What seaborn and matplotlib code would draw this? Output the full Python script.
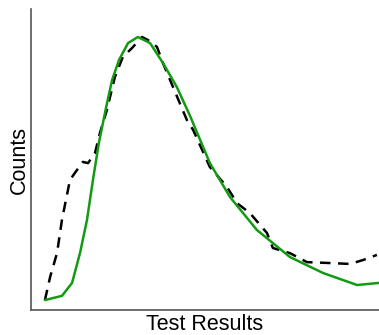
import matplotlib.pyplot as plt
import seaborn as sns
import pandas as pd

# fitted (green) curve
fit_x = [4.0, 8.9, 11.8, 14.1, 16.1, 17.8, 19.5, 21.6, 23.3, 25.3, 27.9, 30.7, 34.2, 37.9, 41.9, 45.7,
         51.4, 57.2, 64.9, 74.4, 83.9, 93.7, 100.0]
fit_y = [3.3, 4.7, 9.0, 19.0, 30.0, 43.2, 55.5, 67.4, 76.4, 83.1, 88.7, 90.7, 88.7, 82.1, 74.1, 64.5,
         48.8, 37.5, 26.6, 17.6, 12.3, 8.3, 9.0]

# measured (dashed) curve
obs_x = [4.0, 5.5, 7.5, 8.9, 11.2, 13.2, 14.9, 16.4, 18.4, 19.8, 21.8, 24.1, 26.4, 29.0, 31.9, 33.6,
         36.2, 37.9, 40.8, 44.8, 46.6, 51.4, 56.3, 59.2, 62.9, 67.8, 69.5, 74.4, 79.3, 85.9, 91.7, 95.4,
         99.4]
obs_y = [3.3, 11.0, 19.0, 30.0, 43.2, 46.5, 49.2, 48.8, 52.2, 58.8, 66.4, 77.4, 84.1, 87.0, 90.7, 89.7,
         87.4, 82.1, 74.1, 63.1, 59.8, 47.5, 40.9, 35.5, 32.2, 25.6, 20.6, 18.9, 15.9, 15.6, 15.3, 16.6,
         18.3]

fit = pd.DataFrame({"x": fit_x, "y": fit_y})
obs = pd.DataFrame({"x": obs_x, "y": obs_y})

sns.set_style("white")
plt.rcParams['font.family'] = ['Liberation Sans', 'DejaVu Sans']

fig = plt.figure(figsize=(3.79, 3.35), dpi=100)
ax = fig.add_axes([31 / 379, 25 / 335, 348 / 379, 301 / 335])

sns.lineplot(data=obs, x="x", y="y", ax=ax, color="black", linewidth=1.8,
             sort=False, linestyle=(0, (4.2, 3.0)))
sns.lineplot(data=fit, x="x", y="y", ax=ax, color="#139a13", linewidth=1.8, sort=False)

ax.set_xlim(0, 100)
ax.set_ylim(0, 100)
ax.set_xticks([])
ax.set_yticks([])
ax.set_xlabel("Test Results", fontsize=15.5, color="black", labelpad=3)
ax.set_ylabel("Counts", fontsize=15.5, color="black", labelpad=1)
sns.despine(ax=ax)
for s in ["left", "bottom"]:
    ax.spines[s].set_color("#555555")
    ax.spines[s].set_linewidth(1.2)

fig.savefig("out.png", dpi=100)
